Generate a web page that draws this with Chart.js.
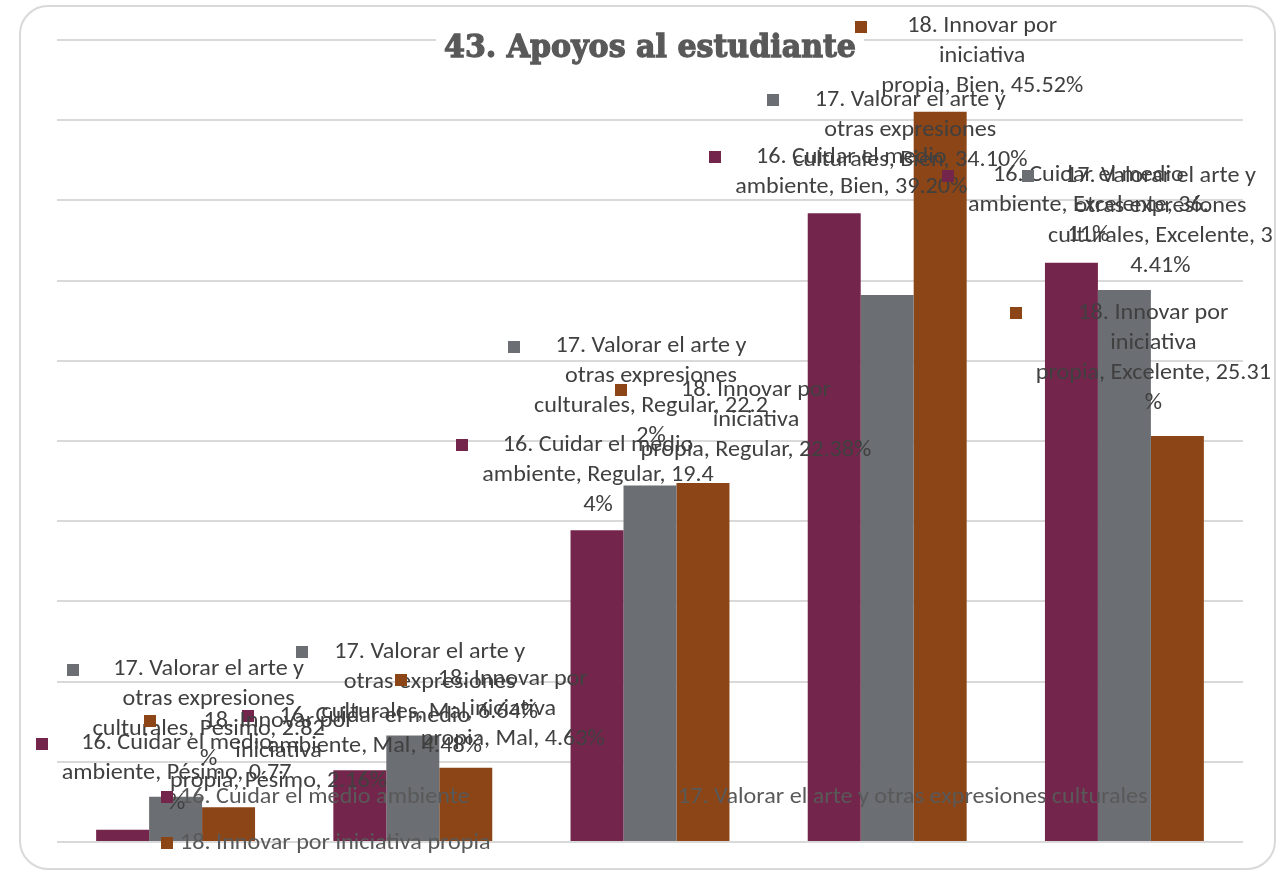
<!DOCTYPE html>
<html>
<head>
<meta charset="utf-8">
<script src="https://cdn.jsdelivr.net/npm/chart.js@4.4.1/dist/chart.umd.min.js"></script>
<style>
  html, body { margin: 0; padding: 0; background: #fff; }
  #wrap { position: absolute; left: 0; top: 0; width: 1278px; height: 875px; }
</style>
</head>
<body>
<div id="wrap"><canvas id="apoyosChart" width="1278" height="875"></canvas></div>
<script>
// Data
const chartTitle = '43. Apoyos al estudiante';
const categories = ['Pésimo', 'Mal', 'Regular', 'Bien', 'Excelente'];
const seriesNames = [
    '16. Cuidar el medio ambiente',
    '17. Valorar el arte y otras expresiones culturales',
    '18. Innovar por iniciativa propia'
];
const cuidarMedio = [0.77, 4.48, 19.44, 39.20, 36.11];
const valorarArte = [2.82, 6.64, 22.22, 34.10, 34.41];
const innovarPropia = [2.16, 4.63, 22.38, 45.52, 25.31];
const yMax = 50;
const yStep = 5;

// how the series names wrap inside the data labels
const labelNameLines = [
    ['16. Cuidar el medio', 'ambiente'],
    ['17. Valorar el arte y', 'otras expresiones', 'culturales'],
    ['18. Innovar por', 'iniciativa', 'propia']
];

const colors = ['#74254b', '#6b6e72', '#8b4516'];

// label placement relative to the bar top: [dx, dy, chars of value kept on the line (0 = all)]
const labelLayout = [
    [[54, -86, 4], [15, -54, 0], [1, -85, 4], [17, -56, 0], [17, -87, 3]],
    [[33, -127, 4], [17, -83, 0], [1, -139, 4], [23, -195, 0], [36, -114, 1]],
    [[50, -86, 0], [47, -88, 0], [53, -93, 0], [42, -85, 0], [-24, -123, 5]]
];
// legend entries: key centre x, y offset from the plot bottom
const legendSpots = [[167, -45], [665, -45], [167, 1]];

const labelFont = '22px Carlito, Lato, "Liberation Sans", sans-serif';
const titleFont = 'bold 32px "DejaVu Serif", serif';

function roundRect(ctx, x, y, w, h, r) {
    ctx.beginPath();
    ctx.moveTo(x + r, y);
    ctx.arcTo(x + w, y, x + w, y + h, r);
    ctx.arcTo(x + w, y + h, x, y + h, r);
    ctx.arcTo(x, y + h, x, y, r);
    ctx.arcTo(x, y, x + w, y, r);
    ctx.closePath();
}

function squeezeText(ctx, text, x, y, sx) {
    ctx.save();
    ctx.translate(x, y);
    ctx.scale(sx, 1);
    ctx.fillText(text, 0, 0);
    ctx.restore();
}

const excelDecor = {
    id: 'excelDecor',
    beforeDraw(chart) {
        const ctx = chart.ctx;
        ctx.save();
        ctx.fillStyle = '#ffffff';
        ctx.fillRect(0, 0, chart.width, chart.height);
        roundRect(ctx, 20, 6, 1255, 863, 28);
        ctx.strokeStyle = '#d9d9d9';
        ctx.lineWidth = 2;
        ctx.stroke();
        ctx.restore();
    },
    afterDatasetsDraw(chart) {
        const ctx = chart.ctx;
        const area = chart.chartArea;
        ctx.save();

        // title sits on a white box over the top grid line
        ctx.font = titleFont;
        const tw = ctx.measureText(chartTitle).width;
        const tsx = 412 / tw;
        const tcx = (area.left + area.right) / 2;
        ctx.fillStyle = '#ffffff';
        ctx.fillRect(tcx - 214, 26, 428, 40);
        ctx.fillStyle = '#595959';
        ctx.strokeStyle = '#595959';
        ctx.lineWidth = 1.3;
        ctx.textAlign = 'center';
        ctx.textBaseline = 'alphabetic';
        ctx.save();
        ctx.translate(tcx, 57);
        ctx.scale(tsx, 1);
        ctx.fillText(chartTitle, 0, 0);
        ctx.strokeText(chartTitle, 0, 0);
        ctx.restore();

        // data labels with their legend key
        ctx.font = labelFont;
        const sx = 150 / ctx.measureText('18. Innovar por').width;
        ctx.textBaseline = 'middle';
        chart.data.datasets.forEach((ds, si) => {
            const meta = chart.getDatasetMeta(si);
            meta.data.forEach((bar, ci) => {
                const [dx, dy, cut] = labelLayout[si][ci];
                const names = labelNameLines[si];
                const value = ds.data[ci].toFixed(2) + '%';
                const lines = names.slice(0, -1);
                const last = names[names.length - 1] + ', ' + categories[ci] + ', ';
                if (cut > 0) {
                    lines.push(last + value.slice(0, cut));
                    lines.push(value.slice(cut));
                } else {
                    lines.push(last + value);
                }
                const x = bar.x + dx;
                const y = bar.y + dy;
                const widest = Math.max(...lines.map(l => ctx.measureText(l).width * sx));
                const left = x - widest / 2;
                ctx.fillStyle = ds.backgroundColor;
                ctx.fillRect(Math.round(left - 26), Math.round(y - 6), 12, 12);
                ctx.fillStyle = '#404040';
                lines.forEach((l, li) => squeezeText(ctx, l, x, y + li * 30, sx));
            });
        });

        // legend, drawn over the bars like the original
        ctx.textAlign = 'left';
        chart.data.datasets.forEach((ds, si) => {
            const [kx, oy] = legendSpots[si];
            const ky = area.bottom + oy;
            ctx.fillStyle = ds.backgroundColor;
            ctx.fillRect(kx - 6, ky - 6, 12, 12);
            ctx.fillStyle = '#595959';
            squeezeText(ctx, ds.label, kx + 13 + 0, ky, sx);
        });
        ctx.restore();
    }
};

const ctx = document.getElementById('apoyosChart').getContext('2d');
new Chart(ctx, {
    type: 'bar',
    data: {
        labels: categories,
        datasets: [
            { label: seriesNames[0], data: cuidarMedio, backgroundColor: colors[0] },
            { label: seriesNames[1], data: valorarArte, backgroundColor: colors[1] },
            { label: seriesNames[2], data: innovarPropia, backgroundColor: colors[2] }
        ]
    },
    options: {
        responsive: false,
        animation: false,
        devicePixelRatio: 1,
        categoryPercentage: 0.67,
        barPercentage: 1.0,
        layout: { padding: { left: 57, right: 35, top: 40, bottom: 33 } },
        scales: {
            x: {
                grid: { display: false },
                border: { display: false },
                ticks: { display: false },
                afterFit: s => { s.height = 0; }
            },
            y: {
                min: 0,
                max: yMax,
                ticks: { display: false, stepSize: yStep },
                grid: { color: '#d9d9d9', lineWidth: 2, drawTicks: false },
                border: { display: false },
                afterFit: s => { s.width = 0; }
            }
        },
        plugins: {
            legend: { display: false },
            title: { display: false },
            tooltip: { enabled: false }
        }
    },
    plugins: [excelDecor]
});
</script>
</body>
</html>
